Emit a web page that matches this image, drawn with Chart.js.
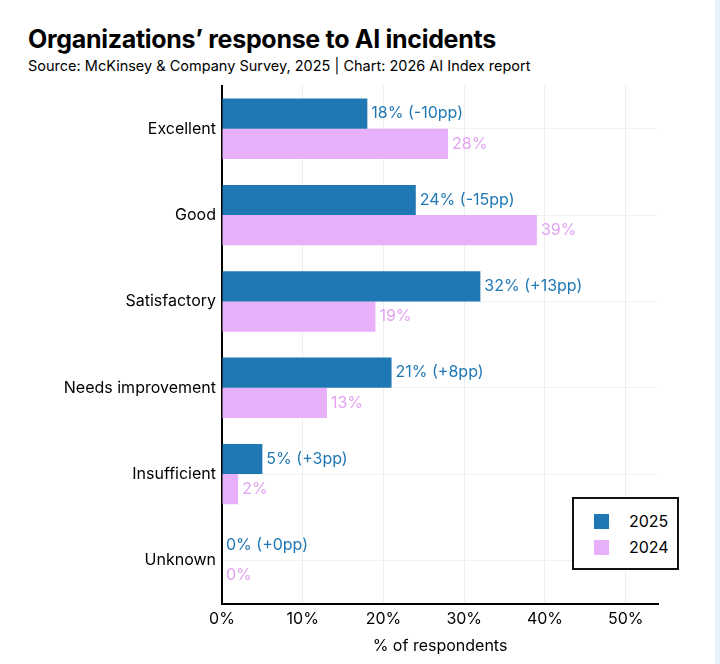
<!DOCTYPE html>
<html><head><meta charset="utf-8">
<script src="https://cdn.jsdelivr.net/npm/chart.js@4"></script>
<style>
html,body{margin:0;padding:0;background:#e6f1fb;}
#page{position:absolute;left:0;top:0;width:715px;height:664px;background:#fff;font-family:Inter,"Open Sans",sans-serif;}
#title{position:absolute;left:28px;top:24px;font-size:25px;font-weight:700;color:#000;letter-spacing:-0.3px;}
#sub{position:absolute;left:28px;top:57px;font-size:14.5px;color:#000;}
#wrap{position:absolute;left:0;top:70px;width:715px;height:594px;}
#legend{position:absolute;left:572px;top:497px;width:103px;height:69px;border:2px solid #111;background:#fff;font-size:16px;}
.li{position:absolute;left:20px;display:flex;align-items:center;}
.sw{width:15px;height:15px;margin-right:20px;}
</style></head><body>
<div id="page">
<div id="title">Organizations’ response to AI incidents</div>
<div id="sub">Source: McKinsey &amp; Company Survey, 2025 | Chart: 2026 AI Index report</div>
<div id="wrap"><canvas id="c"></canvas></div>
<div id="legend">
<div class="li" style="top:12px"><div class="sw" style="background:#1f77b4"></div>2025</div>
<div class="li" style="top:38px"><div class="sw" style="background:#e8b0f8"></div>2024</div>
</div>
</div>
<script>
const categories=["Excellent","Good","Satisfactory","Needs improvement","Insufficient","Unknown"];
const values2025=[18,24,32,21,5,0];
const values2024=[28,39,19,13,2,0];
const changes=["-10pp","-15pp","+13pp","+8pp","+3pp","+0pp"];
const xTicks=[0,10,20,30,40,50];
const blue="#1f77b4", pink="#e8b0f8", pinkText="#e2a2f2";
const labelPlugin={id:"lbl",afterDatasetsDraw(ch){
  const ctx=ch.ctx;ctx.save();ctx.font="16px Inter, 'Open Sans', sans-serif";ctx.textBaseline="middle";
  ch.data.datasets.forEach((ds,di)=>{
    ch.getDatasetMeta(di).data.forEach((b,i)=>{
      const v=ds.data[i];
      ctx.fillStyle=di===0?blue:pinkText;
      const t=di===0?`${v}% (${changes[i]})`:`${v}%`;
      ctx.fillText(t,b.x+4,b.y);
    });
  });ctx.restore();}};
new Chart(document.getElementById("c"),{
  type:"bar",
  data:{labels:categories,datasets:[
    {label:"2025",data:values2025,backgroundColor:blue,categoryPercentage:0.7,barPercentage:1.0},
    {label:"2024",data:values2024,backgroundColor:pink,categoryPercentage:0.7,barPercentage:1.0}]},
  options:{indexAxis:"y",responsive:true,maintainAspectRatio:false,animation:false,
    layout:{padding:{top:9,right:57,bottom:4}},
    plugins:{legend:{display:false},tooltip:{enabled:false}},
    scales:{
      x:{min:0,max:54,afterBuildTicks(s){s.ticks=xTicks.map(v=>({value:v}));},
        ticks:{color:"#000",font:{size:16,family:"Inter"},padding:6,callback:v=>v+"%"},
        grid:{color:"#eeeeee",drawTicks:false},border:{color:"#000",width:2},
        title:{display:true,text:"% of respondents",color:"#000",font:{size:16,family:"Inter"},padding:{top:2}}},
      y:{afterFit(s){s.width=222;},
        ticks:{color:"#000",font:{size:16,family:"Inter"},padding:6},
        grid:{color:"#f2f2f2",drawTicks:false,offset:false},border:{color:"#000",width:2}}
    }},
  plugins:[labelPlugin]
});
</script>
</body></html>
